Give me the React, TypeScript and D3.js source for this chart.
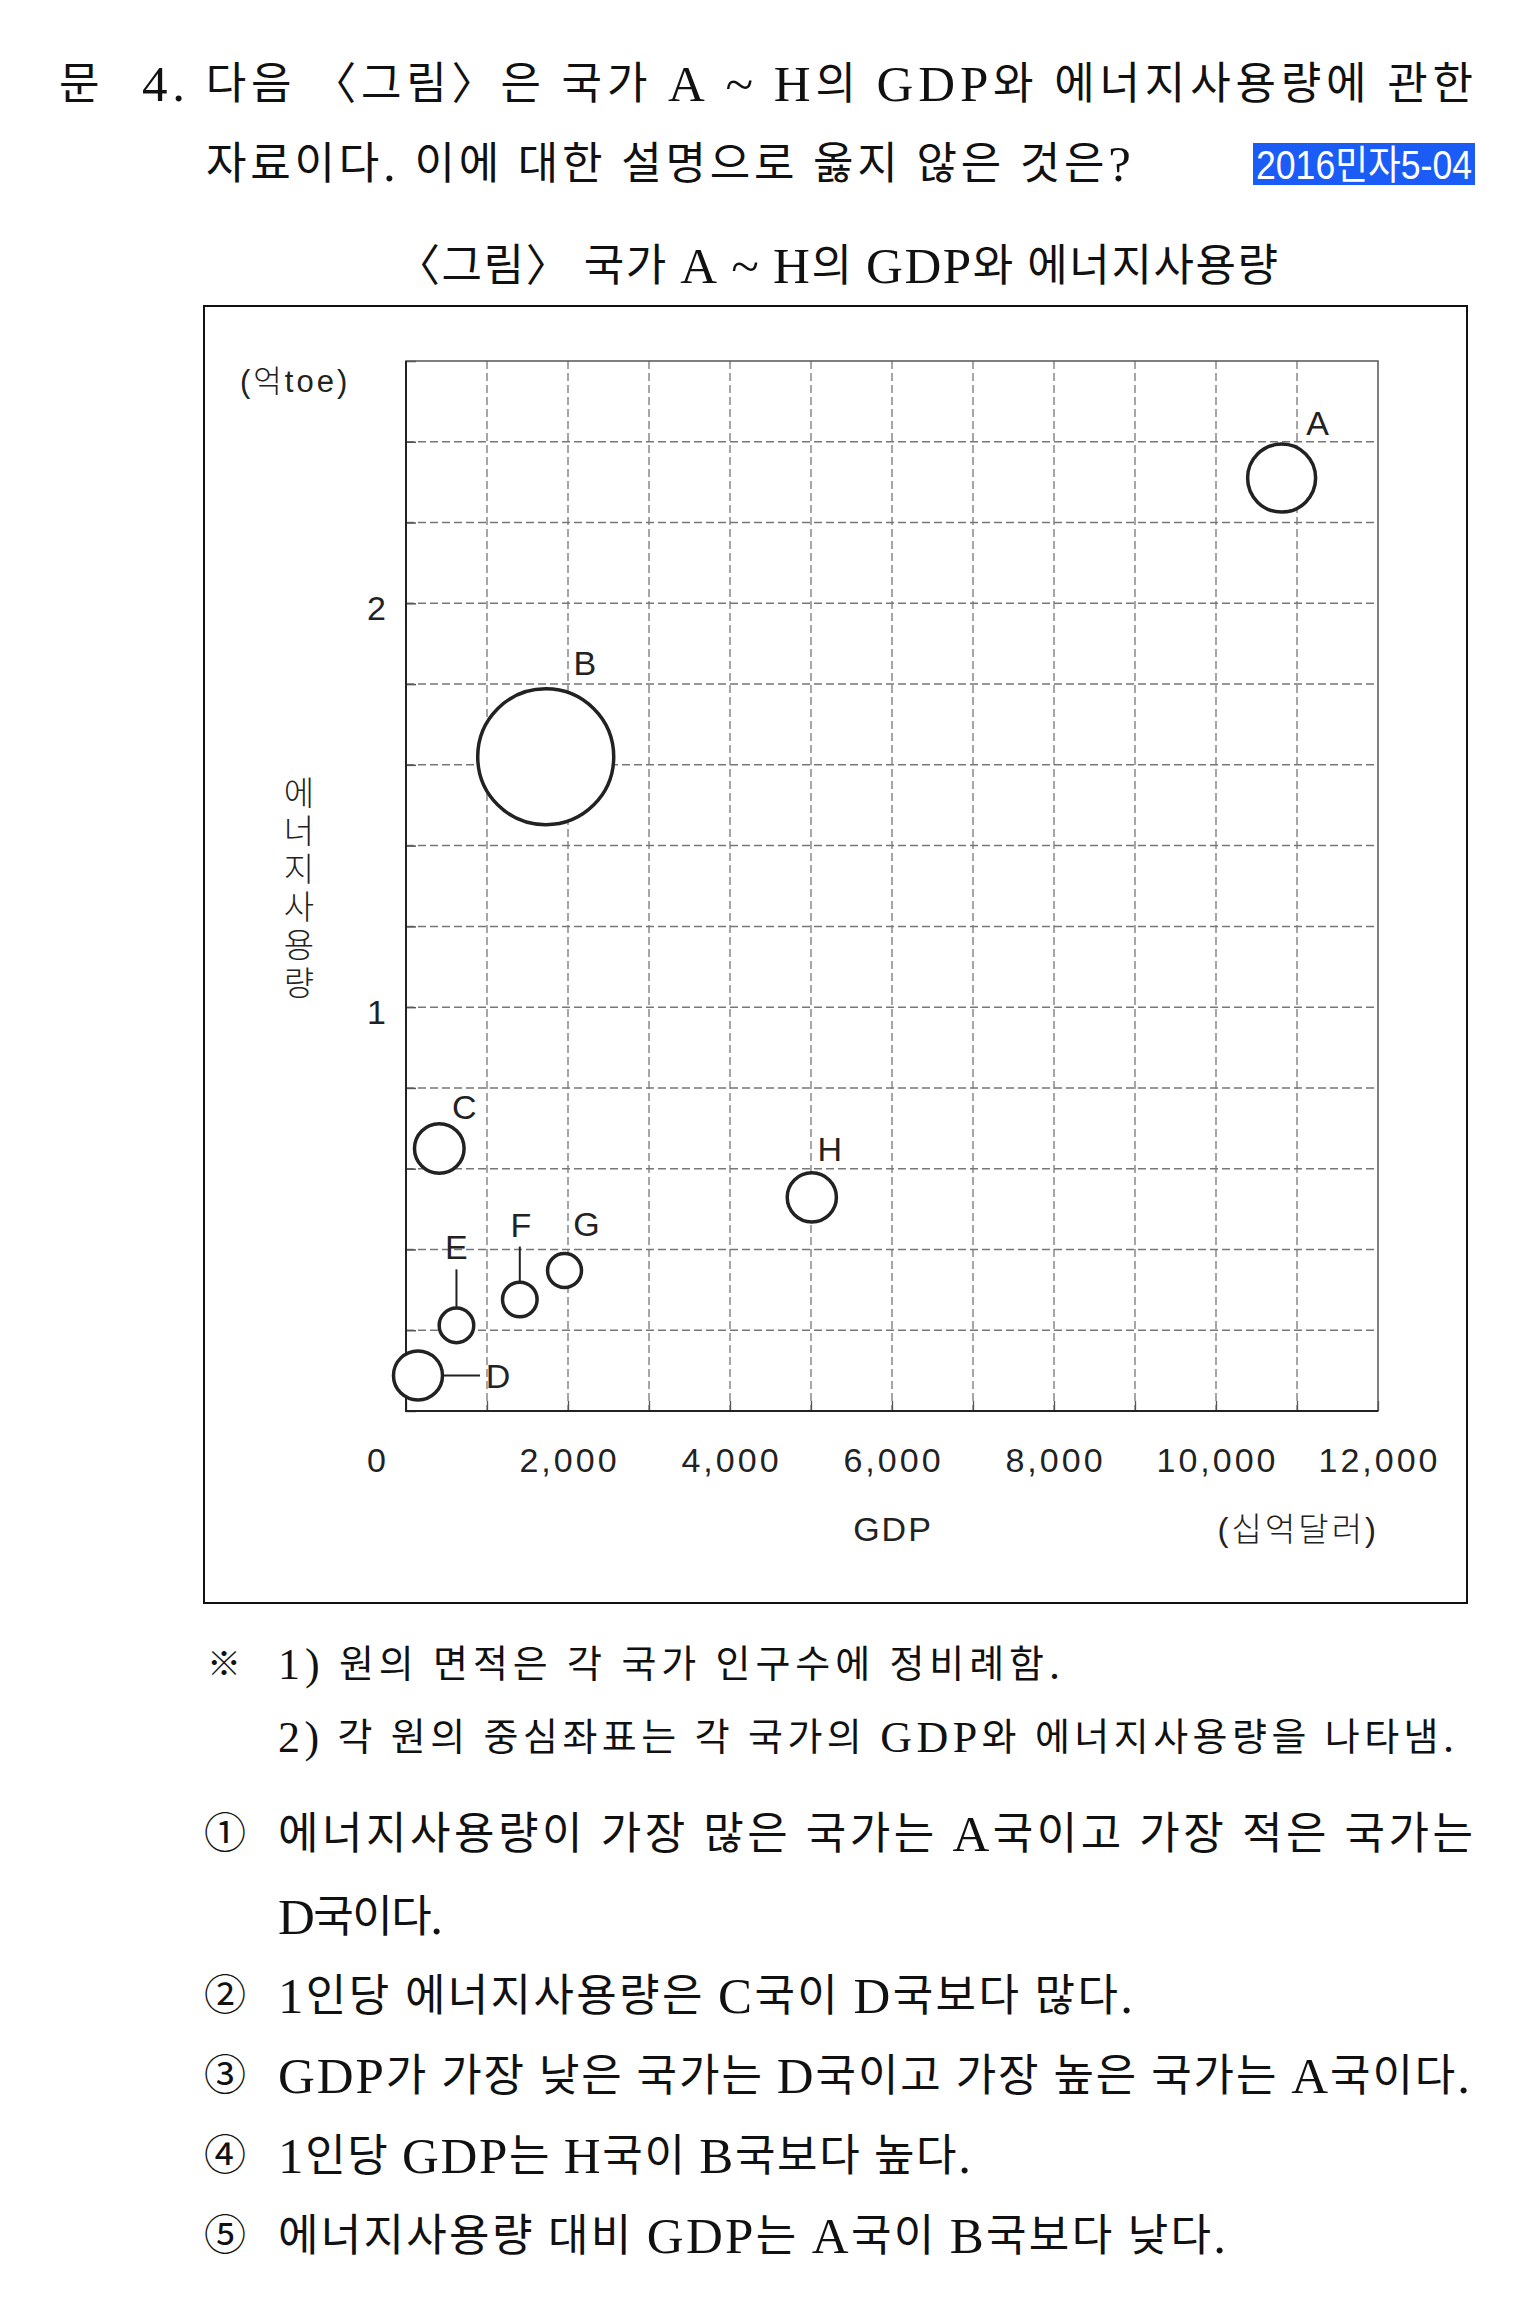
import React, { useRef, useEffect } from 'react';
import * as d3 from 'd3';

// country data (GDP: 십억달러, energy: 억toe, population: relative, from circle area)
const countries = ['A', 'B', 'C', 'D', 'E', 'F', 'G', 'H'];
const gdp = [10810, 1725, 411, 148, 623, 1405, 1957, 5010];
const energy = [2.31, 1.62, 0.65, 0.088, 0.212, 0.276, 0.348, 0.529];
const population = [325, 1300, 173, 169, 84, 84, 81, 170];

const xTickLabels = [2000, 4000, 6000, 8000, 10000, 12000];
const yTickLabels = [1, 2];

// label placement relative to circle centre (px), and leader lines
const labelOffset: Record<string, [number, number]> = {
  A: [36, -55], B: [39, -94], C: [25, -42], D: [80, 1],
  E: [0, -78], F: [1, -75], G: [22, -46], H: [18, -48],
};
const leaders: Record<string, 'right' | 'up'> = { D: 'right', E: 'up', F: 'up' };

const serif = "'Liberation Serif', 'Noto Sans CJK KR', serif";
const sans = "'Liberation Sans', 'Noto Sans CJK KR', sans-serif";

const questionLines = [
  { text: '문', x: 59, y: 84, size: 44 },
  { text: '4. 다음 〈그림〉은 국가 A ~ H의 GDP와 에너지사용량에 관한', x: 142, y: 84, size: 44, len: 1331 },
  { text: '자료이다. 이에 대한 설명으로 옳지 않은 것은?', x: 206, y: 164, size: 44, len: 925 },
  { text: '〈그림〉 국가 A ~ H의 GDP와 에너지사용량', x: 396, y: 266, size: 44, len: 882 },
  { text: '※', x: 207, y: 1664, size: 34 },
  { text: '1) 원의 면적은 각 국가 인구수에 정비례함.', x: 278, y: 1664, size: 38, len: 782 },
  { text: '2) 각 원의 중심좌표는 각 국가의 GDP와 에너지사용량을 나타냄.', x: 278, y: 1737, size: 38, len: 1176 },
  { text: '①', x: 204, y: 1834, size: 42 },
  { text: '에너지사용량이 가장 많은 국가는 A국이고 가장 적은 국가는', x: 278, y: 1834, size: 44, len: 1195 },
  { text: 'D국이다.', x: 278, y: 1917, size: 44, len: 165 },
  { text: '②', x: 204, y: 1996, size: 42 },
  { text: '1인당 에너지사용량은 C국이 D국보다 많다.', x: 278, y: 1996, size: 44, len: 855 },
  { text: '③', x: 204, y: 2076, size: 42 },
  { text: 'GDP가 가장 낮은 국가는 D국이고 가장 높은 국가는 A국이다.', x: 278, y: 2076, size: 44, len: 1192 },
  { text: '④', x: 204, y: 2156, size: 42 },
  { text: '1인당 GDP는 H국이 B국보다 높다.', x: 278, y: 2156, size: 44, len: 693 },
  { text: '⑤', x: 204, y: 2236, size: 42 },
  { text: '에너지사용량 대비 GDP는 A국이 B국보다 낮다.', x: 278, y: 2236, size: 44, len: 948 },
];

export default function App() {
  const svgRef = useRef<SVGSVGElement>(null);

  useEffect(() => {
    const width = 1535;
    const height = 2317;
    const plot = { left: 406, right: 1378, top: 361, bottom: 1411 };

    const x = d3.scaleLinear().domain([0, 12000]).range([plot.left, plot.right]);
    const y = d3.scaleLinear().domain([0, 2.6]).range([plot.bottom, plot.top]);
    const r = d3.scaleSqrt().domain([0, 1300]).range([0, 68]);
    const fmt = d3.format(',');

    const svg = d3.select(svgRef.current);
    svg.selectAll('*').remove();
    svg.attr('width', width).attr('height', height).attr('viewBox', [0, 0, width, height]);

    svg.append('rect').attr('width', width).attr('height', height).attr('fill', '#fff');

    // question text: latin runs a bit larger so they stand as tall as hangul
    questionLines.forEach(l => {
      const t = svg.append('text')
        .attr('x', l.x).attr('y', l.y)
        .attr('dominant-baseline', 'central')
        .attr('font-family', serif)
        .attr('font-size', l.size)
        .attr('fill', '#111');
      l.text.split(/([A-Za-z0-9?.~()]+)/).filter(s => s.length).forEach(s => {
        const latin = /^[A-Za-z0-9?.~()]+$/.test(s);
        t.append('tspan')
          .attr('font-size', latin ? Math.round(l.size * 1.15) : l.size)
          .text(s);
      });
      if (l.len) t.attr('textLength', l.len).attr('lengthAdjust', 'spacing');
    });

    // source tag
    svg.append('rect').attr('x', 1253).attr('y', 143).attr('width', 222).attr('height', 42).attr('fill', '#1b5cf7');
    svg.append('text')
      .attr('x', 1256).attr('y', 165)
      .attr('dominant-baseline', 'central')
      .attr('font-family', "'Liberation Sans Narrow', 'Liberation Sans', 'Noto Sans CJK KR', sans-serif")
      .attr('font-size', 40)
      .attr('fill', '#fff')
      .attr('textLength', 216).attr('lengthAdjust', 'spacingAndGlyphs')
      .text('2016민자5-04');

    // outer frame of the figure
    svg.append('rect')
      .attr('x', 204).attr('y', 306).attr('width', 1263).attr('height', 1297)
      .attr('fill', 'none').attr('stroke', '#111').attr('stroke-width', 2);

    // grid
    svg.append('g')
      .selectAll('line')
      .data(x.ticks(12).slice(1, -1))
      .join('line')
      .attr('x1', d => x(d)).attr('x2', d => x(d))
      .attr('y1', plot.top).attr('y2', plot.bottom)
      .attr('stroke', '#777').attr('stroke-width', 1.3).attr('stroke-dasharray', '8,4');

    svg.append('g')
      .selectAll('line')
      .data(y.ticks(13).slice(1, -1))
      .join('line')
      .attr('x1', plot.left).attr('x2', plot.right)
      .attr('y1', d => y(d)).attr('y2', d => y(d))
      .attr('stroke', '#777').attr('stroke-width', 1.5).attr('stroke-dasharray', '8,4');

    // inward ticks
    svg.append('g')
      .attr('transform', `translate(0,${plot.bottom})`)
      .call(d3.axisBottom(x).ticks(12).tickSize(-10).tickFormat(() => ''))
      .call(g => g.select('.domain').remove())
      .call(g => g.selectAll('.tick line').attr('stroke', '#555').attr('stroke-width', 1.3));

    svg.append('g')
      .attr('transform', `translate(${plot.left},0)`)
      .call(d3.axisLeft(y).ticks(13).tickSize(-10).tickFormat(() => ''))
      .call(g => g.select('.domain').remove())
      .call(g => g.selectAll('.tick line').attr('stroke', '#555').attr('stroke-width', 1.5));

    svg.append('rect')
      .attr('x', plot.left).attr('y', plot.top)
      .attr('width', plot.right - plot.left).attr('height', plot.bottom - plot.top)
      .attr('fill', 'none').attr('stroke', '#555').attr('stroke-width', 1.5);

    svg.append('path')
      .attr('d', `M${plot.left},${plot.top}V${plot.bottom}H${plot.right}`)
      .attr('fill', 'none').attr('stroke', '#222').attr('stroke-width', 2);

    // tick labels
    const axisText = (sel: any) => sel
      .attr('font-family', sans).attr('font-weight', 300)
      .attr('fill', '#222').attr('dominant-baseline', 'central');

    svg.append('g').selectAll('text')
      .data(xTickLabels)
      .join('text')
      .call(axisText)
      .attr('x', d => x(d) + 1.5).attr('y', plot.bottom + 49)
      .attr('text-anchor', 'middle').attr('font-size', 34).attr('letter-spacing', 3)
      .text(d => fmt(d));

    svg.append('text').call(axisText)
      .attr('x', 386).attr('y', plot.bottom + 49)
      .attr('text-anchor', 'end').attr('font-size', 34)
      .text('0');

    svg.append('g').selectAll('text')
      .data(yTickLabels)
      .join('text')
      .call(axisText)
      .attr('x', 386).attr('y', d => y(d) + 5)
      .attr('text-anchor', 'end').attr('font-size', 34)
      .text(d => d);

    // axis titles
    svg.append('text').call(axisText)
      .attr('x', 240).attr('y', 381).attr('font-size', 31).attr('letter-spacing', 3)
      .text('(억toe)');

    svg.append('g').selectAll('text')
      .data(Array.from('에너지사용량'))
      .join('text')
      .call(axisText)
      .attr('x', 299).attr('y', (d, i) => 793 + i * 38)
      .attr('text-anchor', 'middle').attr('font-size', 33)
      .text(d => d);

    svg.append('text').call(axisText)
      .attr('x', x(6000) + 1).attr('y', 1529)
      .attr('text-anchor', 'middle').attr('font-size', 34).attr('letter-spacing', 2)
      .text('GDP');

    svg.append('text').call(axisText)
      .attr('x', 1379).attr('y', 1529)
      .attr('text-anchor', 'end').attr('font-size', 33).attr('letter-spacing', 3)
      .text('(십억달러)');

    // bubbles
    const data = countries.map((name, i) => ({
      name, gdp: gdp[i], energy: energy[i], pop: population[i],
    })).sort((a, b) => b.pop - a.pop);

    const nodes = svg.append('g').selectAll('g')
      .data(data)
      .join('g')
      .attr('transform', d => `translate(${x(d.gdp)},${y(d.energy)})`);

    nodes.filter(d => leaders[d.name] === 'right')
      .append('line')
      .attr('x1', d => r(d.pop)).attr('x2', d => labelOffset[d.name][0] - 18)
      .attr('y1', 0).attr('y2', 0)
      .attr('stroke', '#222').attr('stroke-width', 2);

    nodes.filter(d => leaders[d.name] === 'up')
      .append('line')
      .attr('x1', 0).attr('x2', 0)
      .attr('y1', d => -r(d.pop)).attr('y2', d => labelOffset[d.name][1] + 22)
      .attr('stroke', '#222').attr('stroke-width', 2);

    nodes.append('circle')
      .attr('r', d => r(d.pop))
      .attr('fill', '#fff')
      .attr('stroke', '#222')
      .attr('stroke-width', 3.5);

    nodes.append('text')
      .call(axisText)
      .attr('x', d => labelOffset[d.name][0])
      .attr('y', d => labelOffset[d.name][1])
      .attr('text-anchor', 'middle')
      .attr('font-size', 34)
      .text(d => d.name);
  }, []);

  return (
    <svg ref={svgRef} style={{ position: 'absolute', left: 0, top: 0, display: 'block' }}></svg>
  );
}
